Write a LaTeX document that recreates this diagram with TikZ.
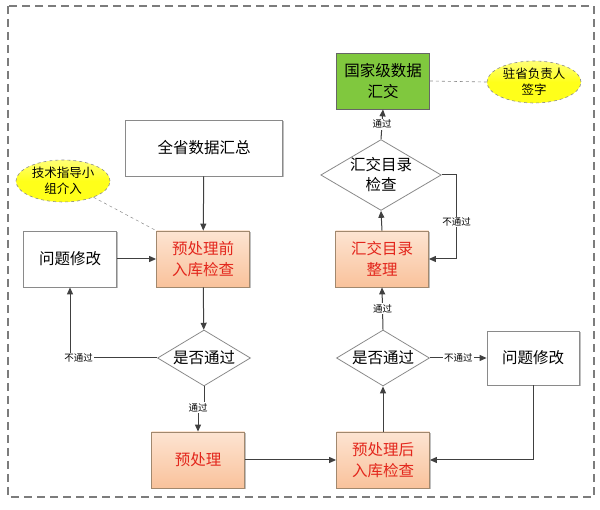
\documentclass[tikz,border=0pt]{standalone}
\usepackage{fontspec}
\setmainfont{Noto Sans CJK SC}
\usetikzlibrary{arrows.meta,shapes.geometric,shadows,calc}
\definecolor{linec}{HTML}{404040}
\definecolor{bordc}{HTML}{8A8A8A}
\definecolor{redt}{HTML}{E3261C}
\definecolor{orT}{HTML}{FDE4D2}
\definecolor{orB}{HTML}{F9C29B}
\definecolor{grn}{HTML}{80C83E}
\definecolor{yel}{HTML}{FFFF1A}
\begin{document}
\begin{tikzpicture}[x=1pt,y=-1pt,
  every node/.style={align=center},
  plainbox/.style={draw=bordc, line width=0.8pt, fill=white, minimum width=#1, minimum height=56pt, inner sep=0pt, font=\fontsize{15.5}{20}\selectfont,
    drop shadow={shadow xshift=1.5pt, shadow yshift=-1.5pt, opacity=0.25, fill=black}},
  plainbox/.default=93pt,
  orbox/.style={draw=bordc!80!orange, line width=0.8pt, top color=orT, bottom color=orB, minimum width=93pt, minimum height=56pt, inner sep=0pt, text=redt, font=\fontsize{15.5}{21}\selectfont,
    drop shadow={shadow xshift=1.5pt, shadow yshift=-1.5pt, opacity=0.25, fill=black}},
  grnbox/.style={draw=linec!80, line width=0.8pt, fill=grn, minimum width=93pt, minimum height=56pt, inner sep=0pt, font=\fontsize{15.5}{21}\selectfont},
  decide/.style={diamond, draw=bordc, line width=0.8pt, fill=white, minimum width=#1, minimum height=56pt, inner sep=0pt, aspect=1.7, font=\fontsize{15.5}{20}\selectfont},
  decide/.default=93pt,
  note/.style={ellipse, draw=bordc, dashed, line width=0.6pt, top color=yel!60!white, bottom color=yel, middle color=yel, minimum width=94pt, minimum height=42pt, inner sep=0pt, font=\fontsize{12.5}{16}\selectfont},
  arr/.style={draw=linec, line width=1pt, -{Triangle[length=7pt,width=6pt]}},
  ln/.style={draw=linec, line width=1pt},
  lbl/.style={fill=white, inner sep=1pt, font=\fontsize{9.5}{11}\selectfont}
]
\useasboundingbox (0,0) rectangle (600,510);
% outer frame
\draw[bordc!90!black, line width=1.1pt, dash pattern=on 8pt off 5pt] (8,6) rectangle (594,497);

% nodes
\node[grnbox] (nat) at (383,81) {国家级数据\\汇交};
\node[note] (sign) at (534,82) {驻省负责人\\签字};
\node[plainbox=157pt] (all) at (204,148) {全省数据汇总};
\node[decide=117pt, minimum height=64pt] (dC) at (381,175) {汇交目录\\检查};
\node[note] (tech) at (63,181) {技术指导小\\组介入};
\node[orbox] (pre) at (203,259) {预处理前\\入库检查};
\node[plainbox] (qL) at (70,259) {问题修改};
\node[orbox] (sort) at (382,259) {汇交目录\\整理};
\node[decide] (dL) at (204,358) {是否通过};
\node[decide] (dR) at (383,358) {是否通过};
\node[plainbox=92pt, minimum height=54pt] (qR) at (533,358) {问题修改};
\node[orbox] (pp) at (198,460) {预处理};
\node[orbox] (post) at (383,460) {预处理后\\入库检查};

% dashed note links
\draw[bordc, dashed, line width=0.6pt] (nat.east) -- (sign.west);
\draw[bordc, dashed, line width=0.5pt] (tech) -- (pre.north west);

% connectors
\draw[arr] (all) -- (pre);
\draw[arr] (qL) -- (pre);
\draw[arr] (pre) -- (dL);
\draw[arr] (dL.west) -| node[lbl, pos=0.45]{不通过} (qL.south);
\draw[ln] (dL.south) -- ++(0,21) coordinate (j);
\draw[ln] (j) -- (j -| pp.north);
\draw[arr] (j -| pp.north) -- (pp.north);
\node[lbl] at (j -| pp.north) {通过};
\draw[arr] (pp) -- (post);
\draw[arr] (post) -- (dR);
\draw[arr] (dR.east) -- node[lbl]{不通过} (qR.west);
\draw[arr] (qR.south) |- (post.east);
\draw[arr] (dR.north) -- node[lbl]{通过} (sort.south);
\draw[arr] (sort.north) -- (dC.south);
\draw[arr] (dC.east) -- ++(15,0) |- node[lbl, pos=0.28]{不通过} (sort.east);
\draw[arr] (dC.north) -- node[lbl]{通过} (nat.south);
\end{tikzpicture}
\end{document}
